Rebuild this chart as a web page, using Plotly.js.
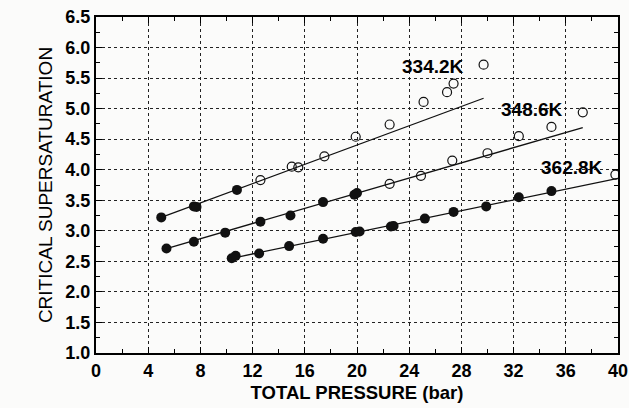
<!DOCTYPE html>
<html>
<head>
<meta charset="utf-8">
<script src="https://cdn.plot.ly/plotly-3.0.1.min.js"></script>
<style>
html,body{margin:0;padding:0;background:#fbfbfa;}
#chart{width:629px;height:408px;}
#chart g.xtick text, #chart g.ytick text { font-weight: 700 !important; font-family: "Liberation Sans", Arial, sans-serif !important; fill: #000000 !important; }
</style>
</head>
<body>
<div id="chart"></div>
<script>
// 334.2K
const filled334X = [5.0, 7.5, 7.7, 10.8];
const filled334Y = [3.22, 3.40, 3.39, 3.67];
const open334X = [12.6, 15.0, 15.5, 17.5, 19.9, 22.5, 25.1, 26.9, 27.4, 29.7];
const open334Y = [3.83, 4.05, 4.04, 4.22, 4.54, 4.74, 5.11, 5.27, 5.41, 5.72];
const fit334X = [5.0, 29.7];
const fit334Y = [3.22, 5.17];
// 348.6K
const filled348X = [5.4, 7.5, 9.9, 12.6, 14.9, 17.4, 19.8, 20.0];
const filled348Y = [2.71, 2.82, 2.97, 3.15, 3.25, 3.47, 3.59, 3.62];
const open348X = [22.5, 24.9, 27.3, 30.0, 32.4, 34.9, 37.3];
const open348Y = [3.77, 3.90, 4.15, 4.27, 4.55, 4.70, 4.94];
const fit348X = [5.4, 37.3];
const fit348Y = [2.71, 4.69];
// 362.8K
const filled362X = [10.4, 10.7, 12.5, 14.8, 17.4, 19.9, 20.2, 22.6, 22.8, 25.2, 27.4, 29.9, 32.4, 34.9];
const filled362Y = [2.55, 2.59, 2.63, 2.75, 2.87, 2.98, 2.99, 3.07, 3.08, 3.20, 3.31, 3.40, 3.55, 3.65];
const open362X = [39.8];
const open362Y = [3.92];
const fit362X = [10.4, 40.0];
const fit362Y = [2.55, 3.86];

const seriesLabels = ["334.2K", "348.6K", "362.8K"];
const labelX = [25.8, 33.4, 36.45];
const labelY = [5.69, 4.98, 4.04];

const ink = '#111111';
function fitTrace(x, y) {
  return {x: x, y: y, mode: 'lines', line: {color: ink, width: 1.3}, hoverinfo: 'skip', showlegend: false};
}
function filledTrace(x, y) {
  return {x: x, y: y, mode: 'markers', marker: {symbol: 'circle', size: 10, color: ink, line: {width: 0}}, showlegend: false};
}
function openTrace(x, y) {
  return {x: x, y: y, mode: 'markers', marker: {symbol: 'circle-open', size: 9, color: ink, line: {width: 1.2, color: ink}}, showlegend: false};
}

const data = [
  fitTrace(fit334X, fit334Y), fitTrace(fit348X, fit348Y), fitTrace(fit362X, fit362Y),
  filledTrace(filled334X, filled334Y), openTrace(open334X, open334Y),
  filledTrace(filled348X, filled348Y), openTrace(open348X, open348Y),
  filledTrace(filled362X, filled362Y), openTrace(open362X, open362Y),
  // empty trace that carries the overlaid minor-tick axes
  {x: [], y: [], xaxis: 'x2', yaxis: 'y2', mode: 'markers', showlegend: false, hoverinfo: 'skip'}
];

const fam = 'Liberation Sans';
const layout = {
  width: 629, height: 408,
  margin: {l: 96, r: 11, t: 17, b: 55},
  paper_bgcolor: '#fbfbfa', plot_bgcolor: '#fbfbfa',
  showlegend: false,
  xaxis: {
    range: [0, 40], dtick: 4,
    showline: true, linecolor: '#000000', linewidth: 2, mirror: 'ticks',
    ticks: 'inside', ticklen: 6, tickwidth: 1.2, tickcolor: '#000000',
    showgrid: true, gridcolor: '#222222', gridwidth: 1, griddash: 'dot',
    zeroline: false,
    tickfont: {family: fam, size: 18, color: '#000000', weight: 700},
    title: {text: '<b>TOTAL PRESSURE (bar)</b>', standoff: 6, font: {family: fam, size: 18.5, color: '#000000'}}
  },
  yaxis: {
    range: [1.0, 6.5], dtick: 0.5, tickformat: '.1f',
    showline: true, linecolor: '#000000', linewidth: 2, mirror: 'ticks',
    ticks: 'inside', ticklen: 6, tickwidth: 1.2, tickcolor: '#000000',
    showgrid: true, gridcolor: '#222222', gridwidth: 1, griddash: 'dot',
    zeroline: false,
    tickfont: {family: fam, size: 18, color: '#000000', weight: 700},
    title: {text: 'CRITICAL SUPERSATURATION', standoff: 8, font: {family: fam, size: 19, color: '#000000'}}
  },
  xaxis2: {
    overlaying: 'x', anchor: 'y2', side: 'bottom', range: [0, 40], dtick: 2,
    showline: false, mirror: 'ticks', ticks: 'inside', ticklen: 4, tickwidth: 1, tickcolor: '#000000',
    showticklabels: false, showgrid: false, zeroline: false
  },
  yaxis2: {
    overlaying: 'y', anchor: 'x2', side: 'left', range: [1.0, 6.5], dtick: 0.25,
    showline: false, mirror: 'ticks', ticks: 'inside', ticklen: 4, tickwidth: 1, tickcolor: '#000000',
    showticklabels: false, showgrid: false, zeroline: false
  },
  annotations: seriesLabels.map((t, i) => ({
    x: labelX[i], y: labelY[i], xref: 'x', yref: 'y', text: '<b>' + t + '</b>', showarrow: false,
    font: {family: fam, size: 19, color: '#000000'}
  }))
};

Plotly.newPlot('chart', data, layout, {displayModeBar: false});
</script>
</body>
</html>
